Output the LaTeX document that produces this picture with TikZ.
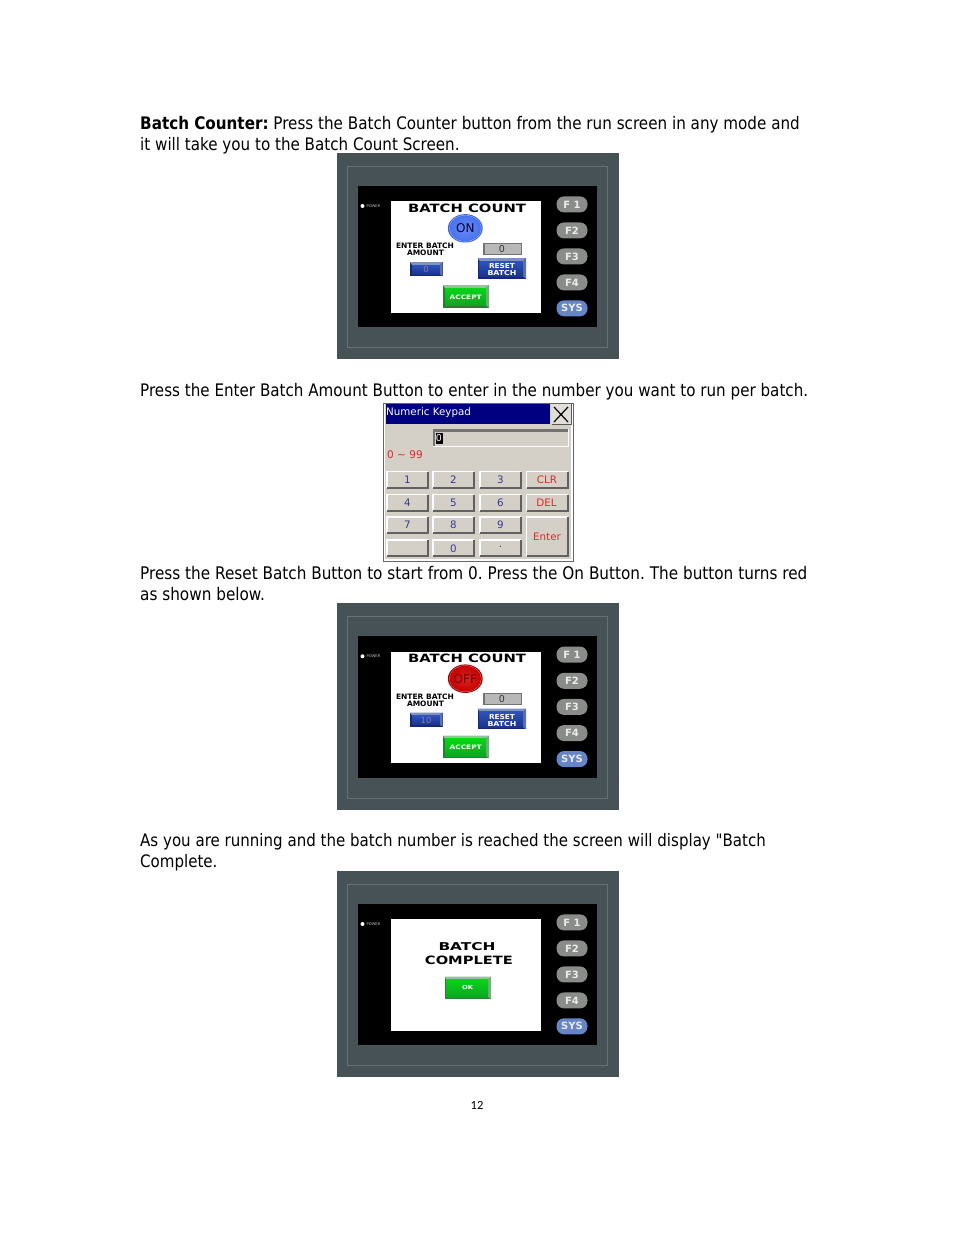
\documentclass[tikz,border=0pt]{standalone}
\usepackage{graphicx}
\usepackage{fontspec}
\setmainfont[FakeStretch=0.877,Ligatures=TeXOff]{DejaVu Sans}
\newfontfamily\hmifont{DejaVu Sans}
\newfontfamily\kpfont{DejaVu Sans}
\newfontfamily\numfont{Carlito}
\frenchspacing
\definecolor{panelc}{HTML}{465255}
\definecolor{panell}{HTML}{64716F}
\definecolor{fkeyc}{HTML}{8A8C8A}
\definecolor{syskey}{HTML}{6585C8}
\definecolor{kbg}{HTML}{D4D0C8}
\definecolor{kblue}{HTML}{3A3A90}
\definecolor{kred}{HTML}{E02828}
\definecolor{bluelt}{HTML}{7F90C4}
\definecolor{bluetop}{HTML}{2F52B8}
\definecolor{bluebot}{HTML}{1A3490}
\definecolor{bluedk}{HTML}{16296E}
\definecolor{greenlt}{HTML}{93C59A}
\definecolor{greentop}{HTML}{08D418}
\definecolor{greenbot}{HTML}{0AA722}
\definecolor{greendk}{HTML}{2F7A3A}
\definecolor{onring}{HTML}{3E62DE}
\definecolor{onfill}{HTML}{4A74F0}
\newcommand{\fitbox}[3]{\resizebox{#1pt}{#2pt}{\hmifont\bfseries #3}}
\tikzset{
  bodytext/.style={anchor=base west,inner sep=0pt,font=\fontsize{#1}{20}\selectfont,text=black},
  bodytext/.default=17.3,
  fkey/.style={rounded corners=7.5pt,minimum width=31pt,minimum height=16pt,inner sep=0pt,fill=fkeyc,text=white!92!black,font=\hmifont\bfseries\fontsize{10}{12}\selectfont},
  scrtext/.style={inner sep=0pt,text=black},
  keylabel/.style={inner sep=0pt,font=\kpfont\fontsize{10.3}{12}\selectfont},
}
% glossy bevelled button: x1 y1 x2 y2 light top bottom dark
\newcommand{\glossbtn}[8]{%
  \fill[#8] (#1,#2) rectangle (#3,#4);
  \fill[#5] (#1,#2) -- (#3,#2) -- (#3-3,#2+3) -- (#1+2,#2+3) -- cycle;
  \fill[#5!70!#8] (#3,#2) -- (#3,#4) -- (#3-3,#4-2) -- (#3-3,#2+3) -- cycle;
  \shade[top color=#6,bottom color=#7] (#1+2,#2+3) rectangle (#3-3,#4-2);
}
\newcommand{\kbtn}[4]{%
  \fill[kbg] (#1,#2) rectangle (#3,#4);
  \draw[white,line width=1.6pt] (#1+.8,#4-1) -- (#1+.8,#2+.8) -- (#3-1,#2+.8);
  \draw[black!62,line width=1.8pt] (#1+1,#4-.9) -- (#3-.9,#4-.9) -- (#3-.9,#2+1);
}
\newcommand{\panel}[4]{%
\begin{scope}[shift={(337,#2)},yscale=#3]
  \fill[panelc] (0,0) rectangle (282,206);
  \draw[panell,line width=.9pt] (10.3,13.4) rectangle (270.6,194.2);
  \fill[black] (21,33) rectangle (260,174);
  \fill[white] (54,48.3) rectangle (204,159.6);
  \fill[white] (25.5,53) circle (2);
  \node[inner sep=0pt,text=white!75!black] (#1pw) at (36.5,53.3) {\resizebox{14pt}{2.8pt}{\hmifont POWER}};
  \node[fkey] (#1f1) at (235,51.4) {F 1};
  \node[fkey] (#1f2) at (235,77.4) {F2};
  \node[fkey] (#1f3) at (235,103.4) {F3};
  \node[fkey] (#1f4) at (235,129.4) {F4};
  \node[fkey,fill=syskey] (#1sys) at (235,155.3) {SYS};
  #4
\end{scope}}
\newcommand{\batchscreen}[5]{% prefix, ring colour, fill, text colour, label
  \node[scrtext] (#1title) at (130,55) {\fitbox{118}{8.5}{BATCH COUNT}};
  \fill[#2] (128.3,75.3) ellipse (17.4 and 14.2);
  \shade[inner color=#3!85!white,outer color=#3] (128.3,75.3) ellipse (15.2 and 12.2);
  \draw[#3!65!white,line width=.6pt] (128.3,75.3) ellipse (16 and 13);
  \node[scrtext,text=#4,font=\hmifont\fontsize{12}{14}\selectfont] (#1on) at (128.3,75.5) {#5};
  \node[scrtext] (#1en1) at (88,93.2) {\fitbox{58}{5.5}{ENTER BATCH}};
  \node[scrtext] (#1en2) at (88.5,100) {\fitbox{37}{5.5}{AMOUNT}};
  \fill[black!55] (146,89.5) rectangle (184.5,101.5);
  \fill[black!28] (147.5,91) rectangle (183.5,100.5);
  \node[scrtext,font=\kpfont\fontsize{9.5}{12}\selectfont,text=black!80] (#1cnt) at (165,95.8) {0};
  \glossbtn{140.5}{105}{189}{125.5}{bluelt}{bluetop}{bluebot}{bluedk}
  \node[scrtext,text=white] (#1rs1) at (165,113) {\fitbox{26}{5}{RESET}};
  \node[scrtext,text=white] (#1rs2) at (165,120) {\fitbox{29}{5}{BATCH}};
  \glossbtn{106}{132}{152}{154.5}{greenlt}{greentop}{greenbot}{greendk}
  \node[scrtext,text=white] (#1acc) at (128.7,144) {\fitbox{32}{4.5}{ACCEPT}};
}
\begin{document}
\begin{tikzpicture}[x=1pt,y=-1pt]
\useasboundingbox (0,0) rectangle (954,1235);
\fill[white] (0,0) rectangle (954,1235);
% body text
\node[bodytext] (t1) at (140,129) {\textbf{Batch Counter:} Press the Batch Counter button from the run screen in any mode and};
\node[bodytext=17.25] (t2) at (140,150) {it will take you to the Batch Count Screen.};
\node[bodytext=17.27] (t3) at (140,396) {Press the Enter Batch Amount Button to enter in the number you want to run per batch.};
\node[bodytext=17.4] (t4) at (140,579) {Press the Reset Batch Button to start from 0. Press the On Button. The button turns red};
\node[bodytext=17.4] (t5) at (140,600) {as shown below.};
\node[bodytext=17.16] (t6) at (140,846) {As you are running and the batch number is reached the screen will display "Batch};
\node[bodytext=17.16] (t7) at (140,867) {Complete.};
\node[inner sep=0pt,font=\numfont\fontsize{12.5}{14}\selectfont] (pg) at (477,1105) {12};
% first screen
\panel{a}{153}{1}{%
  \batchscreen{a}{onring}{onfill}{black!80!blue}{ON}
  \glossbtn{73}{109}{105.5}{123}{bluelt}{bluetop}{bluebot}{bluedk}
  \node[scrtext,text=blue!30!white!70!black,font=\kpfont\fontsize{8.5}{10}\selectfont] (ain) at (89,116.5) {0};
}
% keypad
\fill[black!60] (382.5,402.5) rectangle (573.5,561.5);
\fill[white] (383.5,403.5) rectangle (572.5,560.5);
\fill[kbg] (385,404) rectangle (571,559);
\fill[blue!50!black] (385.5,404) rectangle (550,424);
\node[inner sep=0pt,anchor=base west,text=white,font=\kpfont\fontsize{10.3}{13}\selectfont] (kt) at (386,415) {Numeric Keypad};
\fill[kbg!70!white] (551,404) rectangle (571,424);
\draw[black!65,line width=1pt] (551.5,424) -- (571,424) -- (571,404);
\draw[black,line width=1.2pt] (554,407) -- (568,422) (568,407) -- (554,422);
\fill[white] (433,429) rectangle (568.5,447);
\fill[black!55] (433,429) rectangle (567.5,446);
\fill[kbg] (435,431.5) rectangle (567.5,446);
\fill[black] (435.5,432.5) rectangle (442.5,444);
\node[inner sep=0pt,text=white,font=\kpfont\fontsize{9.5}{11}\selectfont] (kz) at (439,438.5) {0};
\node[inner sep=0pt,anchor=base west,text=kred,font=\kpfont\fontsize{10.5}{12}\selectfont] (kr) at (387,458) {0 \char"007E{} 99};
\kbtn{386}{470.5}{429}{489}
\kbtn{432}{470.5}{475}{489}
\kbtn{479}{470.5}{522}{489}
\kbtn{525.5}{470.5}{569}{489}
\kbtn{386}{493.5}{429}{511.5}
\kbtn{432}{493.5}{475}{511.5}
\kbtn{479}{493.5}{522}{511.5}
\kbtn{525.5}{493.5}{569}{511.5}
\kbtn{386}{516}{429}{534}
\kbtn{432}{516}{475}{534}
\kbtn{479}{516}{522}{534}
\kbtn{525.5}{516}{569}{557}
\kbtn{386}{539}{429}{557}
\kbtn{432}{539}{475}{557}
\kbtn{479}{539}{522}{557}
\node[keylabel,text=kblue] (k1) at (407.5,480) {1};
\node[keylabel,text=kblue] (k2) at (453.5,480) {2};
\node[keylabel,text=kblue] (k3) at (500.5,480) {3};
\node[keylabel,text=kred] (kclr) at (547,479.5) {CLR};
\node[keylabel,text=kblue] (k4) at (407.5,503) {4};
\node[keylabel,text=kblue] (k5) at (453.5,503) {5};
\node[keylabel,text=kblue] (k6) at (500.5,503) {6};
\node[keylabel,text=kred] (kdel) at (546.5,502.5) {DEL};
\node[keylabel,text=kblue] (k7) at (407.5,525) {7};
\node[keylabel,text=kblue] (k8) at (453.5,525) {8};
\node[keylabel,text=kblue] (k9) at (500.5,525) {9};
\node[keylabel,text=kred] (kent) at (547,536.5) {Enter};
\node[keylabel,text=kblue] (k0) at (453.5,548.5) {0};
\node[keylabel,text=kblue] (kdot) at (500.5,547) {.};
% second screen
\panel{b}{603}{1.005}{%
  \batchscreen{b}{red!60!black}{red!80!black}{black!55!red}{OFF}
  \glossbtn{73}{109}{105.5}{123}{bluelt}{bluetop}{bluebot}{bluedk}
  \node[scrtext,text=blue!30!white!70!black,font=\kpfont\fontsize{8.5}{10}\selectfont] (bin) at (89,117) {10};
}
% third screen
\panel{c}{871}{1}{%
  \node[scrtext] (cb1) at (130,76) {\fitbox{57}{8}{BATCH}};
  \node[scrtext] (cb2) at (132,89) {\fitbox{88}{8.5}{COMPLETE}};
  \glossbtn{107.5}{105.5}{154}{128}{greenlt}{greentop}{greenbot}{greendk}
  \node[scrtext,text=white] (cok) at (130.5,117) {\fitbox{11}{4}{OK}};
}
\end{tikzpicture}
\end{document}
